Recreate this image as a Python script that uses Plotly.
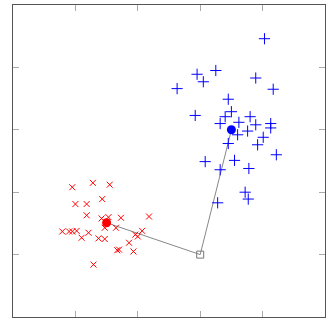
import plotly.graph_objects as go

# cluster A (blue "+")
blue_x = [1.03, -0.05, 0.25, 0.05, -0.37, 0.89, 1.17, 0.45, 0.50, 0.40,
          -0.08, 0.80, 0.32, 0.62, 0.89, 1.13, 1.13, 0.76, 0.60, 1.01,
          0.45, 0.92, 1.22, 0.08, 0.55, 0.78, 0.32, 0.72, 0.77, 0.28]
blue_y = [3.46, 2.89, 2.95, 2.77, 2.66, 2.83, 2.65, 2.49, 2.29, 2.21,
          2.23, 2.21, 2.10, 2.12, 2.08, 2.10, 2.03, 1.98, 1.92, 1.88,
          1.78, 1.76, 1.60, 1.49, 1.51, 1.38, 1.36, 1.00, 0.89, 0.83]

# cluster B (red "x")
red_x = [-2.05, -1.72, -1.45, -1.57, -2.00, -1.82, -1.82, -1.58, -1.47, -1.27,
         -0.82, -1.53, -1.35, -2.21, -2.10, -2.05, -1.98, -1.79, -1.90, -1.63,
         -1.53, -0.93, -1.04, -1.00, -1.14, -1.33, -1.30, -1.07, -1.71]
red_y = [1.08, 1.15, 1.12, 0.89, 0.81, 0.81, 0.63, 0.58, 0.60, 0.59,
         0.61, 0.43, 0.43, 0.37, 0.37, 0.37, 0.38, 0.35, 0.27, 0.26,
         0.25, 0.38, 0.32, 0.29, 0.19, 0.07, 0.08, 0.05, -0.16]

# centroids and the origin square
blue_center = (0.50, 2.00)
red_center = (-1.50, 0.51)
origin = (0.0, 0.0)

x_ticks = [-2, -1, 0, 1]
y_ticks = [0, 1, 2, 3]

fig = go.Figure()

fig.add_trace(go.Scatter(
    x=[red_center[0], origin[0], blue_center[0]],
    y=[red_center[1], origin[1], blue_center[1]],
    mode="lines", line=dict(color="#888888", width=1),
))
fig.add_trace(go.Scatter(
    x=blue_x, y=blue_y, mode="markers",
    marker=dict(symbol="cross-thin-open", size=8, color="blue",
                line=dict(width=1, color="blue")),
))
fig.add_trace(go.Scatter(
    x=red_x, y=red_y, mode="markers",
    marker=dict(symbol="x-thin-open", size=6, color="red",
                line=dict(width=1, color="red")),
))
fig.add_trace(go.Scatter(
    x=[blue_center[0]], y=[blue_center[1]], mode="markers",
    marker=dict(symbol="circle", size=9, color="blue"),
))
fig.add_trace(go.Scatter(
    x=[red_center[0]], y=[red_center[1]], mode="markers",
    marker=dict(symbol="circle", size=9, color="red"),
))
fig.add_trace(go.Scatter(
    x=[origin[0]], y=[origin[1]], mode="markers",
    marker=dict(symbol="square-open", size=7, color="#777777",
                line=dict(width=1, color="#777777")),
))

axis_style = dict(
    showgrid=False, zeroline=False, showticklabels=False,
    ticks="inside", ticklen=6, tickwidth=1, tickcolor="#aaaaaa",
    showline=True, linecolor="#555555", linewidth=1, mirror="ticks",
)

fig.update_layout(
    width=331, height=331,
    margin=dict(l=13, r=6, t=5, b=14),
    paper_bgcolor="white", plot_bgcolor="white",
    showlegend=False,
    xaxis=dict(range=[-3, 2], tickvals=x_ticks, **axis_style),
    yaxis=dict(range=[-1, 4], tickvals=y_ticks, **axis_style),
)

fig.write_html("out.html", config={"displayModeBar": False},
               post_script="document.body.style.margin='0';")
